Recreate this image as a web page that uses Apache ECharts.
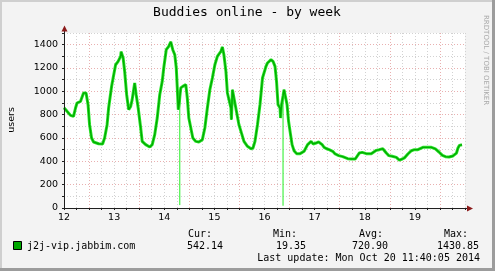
<!DOCTYPE html>
<html>
<head>
<meta charset="utf-8">
<script src="https://cdn.jsdelivr.net/npm/echarts@6/dist/echarts.min.js"></script>
<style>html,body{margin:0;padding:0;background:#f3f3f3;}#c{width:495px;height:271px;}</style>
</head>
<body>
<div id="c"></div>
<script>
const title = 'Buddies online - by week';
const yTitle = 'users';
const seriesName = 'j2j-vip.jabbim.com';
const statLabels = ['Cur:', 'Min:', 'Avg:', 'Max:'];
const statValues = ['542.14', '19.35', '720.90', '1430.85'];
const lastUpdate = 'Last update: Mon Oct 20 11:40:05 2014';
const xTicks = [12, 13, 14, 15, 16, 17, 18, 19];
const yTicks = [0, 200, 400, 600, 800, 1000, 1200, 1400];

// time in days (day of month), value in users
const days = [
  12.00,12.03,12.06,12.13,12.19,12.23,12.26,12.33,12.39,12.44,12.48,12.51,12.55,12.59,12.69,12.77,12.81,12.86,12.89,12.95,12.98,
  13.03,13.08,13.13,13.14,13.18,13.21,13.25,13.29,13.33,13.36,13.41,13.44,13.48,13.53,13.56,13.63,13.71,13.76,13.81,13.86,13.91,13.96,13.99,
  14.04,14.09,14.13,14.17,14.21,14.24,14.26,14.28,14.30,14.31,14.33,14.37,14.43,14.46,14.49,14.53,14.57,14.63,14.69,14.76,14.81,14.86,14.91,14.96,
  15.01,15.06,15.13,15.16,15.19,15.23,15.26,15.29,15.33,15.34,15.36,15.39,15.44,15.49,15.55,15.59,15.66,15.73,15.77,15.81,15.86,15.91,15.96,
  16.03,16.06,16.13,16.17,16.21,16.24,16.27,16.31,16.32,16.34,16.36,16.37,16.39,16.41,16.45,16.48,16.51,16.55,16.59,16.64,16.71,16.79,16.86,16.93,16.97,
  17.03,17.08,17.15,17.19,17.24,17.29,17.36,17.41,17.48,17.56,17.66,17.73,17.81,17.89,17.95,
  18.03,18.13,18.23,18.29,18.36,18.43,18.48,18.55,18.63,18.69,18.75,18.79,18.86,18.93,18.99,
  19.06,19.16,19.24,19.33,19.41,19.48,19.55,19.61,19.68,19.76,19.83,19.86,19.89,19.94,19.98
];
const users = [
  860,872,829,794,786,857,900,914,986,986,886,714,600,566,551,549,600,714,857,1043,1114,
  1228,1257,1300,1340,1286,1171,971,843,871,929,1071,971,857,686,571,543,523,543,629,771,971,1086,1200,
  1357,1386,1425,1357,1314,1200,1029,843,900,950,1029,1043,1057,943,771,686,600,571,566,586,686,857,1014,1114,
  1228,1300,1343,1380,1314,1171,986,971,857,757,1014,1000,829,714,629,571,529,508,514,571,714,886,1114,
  1214,1243,1271,1257,1214,1086,886,857,771,886,900,960,1014,971,886,743,657,543,491,466,466,486,543,571,
  549,557,566,543,520,508,500,486,463,449,440,423,420,420,471,
  477,466,466,494,500,508,471,449,443,434,411,420,429,463,491,
  500,500,520,520,520,506,480,451,440,437,446,471,514,537,542
];
// short dropouts: time, level before the drop, lowest value
const dropTimes = [14.31, 16.37];
const dropFrom = [920, 930];
const dropTo = [25, 19.35];

const mono = 'DejaVu Sans Mono';
const sans = 'DejaVu Sans';
const gridGray = '#d2d2d2';
const gridRed = '#e9b0b0';

const chart = echarts.init(document.getElementById('c'), null, {renderer: 'canvas'});
const data = days.map((d, i) => [d, users[i]]);
const dropData = [];
dropTimes.forEach((t, i) => { dropData.push([t, dropFrom[i]], [t, dropTo[i]], null); });

const statX = [200, 285, 371, 456];
const graphic = [
  {type:'rect', shape:{x:0,y:0,width:495,height:2}, style:{fill:'#cfcfcf'}, silent:true},
  {type:'rect', shape:{x:0,y:0,width:2,height:271}, style:{fill:'#cfcfcf'}, silent:true},
  {type:'rect', shape:{x:0,y:268,width:495,height:3}, style:{fill:'#9c9c9c'}, silent:true},
  {type:'rect', shape:{x:492,y:0,width:3,height:271}, style:{fill:'#9c9c9c'}, silent:true},
  {type:'text', x:247, y:13, style:{text:title, font:'13px "'+mono+'"', fill:'#000', align:'center', verticalAlign:'middle'}},
  {type:'text', x:12, y:120, rotation:Math.PI/2, style:{text:yTitle, font:'9.5px "'+sans+'"', fill:'#000', align:'center', verticalAlign:'middle'}},
  {type:'text', x:486, y:15, rotation:-Math.PI/2, style:{text:'RRDTOOL / TOBI OETIKER', font:'7px "'+sans+'"', fill:'#a8a8a8', align:'left', verticalAlign:'middle'}},
  {type:'line', shape:{x1:64.5,y1:208.5,x2:64.5,y2:30}, style:{stroke:'#202020', lineWidth:1}, z:20},
  {type:'line', shape:{x1:64,y1:208.5,x2:469,y2:208.5}, style:{stroke:'#202020', lineWidth:1}, z:20},
  {type:'polygon', shape:{points:[[61.5,31.5],[67.5,31.5],[64.5,25.5]]}, style:{fill:'#8b1a1a'}, z:21},
  {type:'polygon', shape:{points:[[467,205.5],[467,211.5],[473,208.5]]}, style:{fill:'#8b1a1a'}, z:21},
  {type:'rect', shape:{x:13.5,y:241.5,width:8,height:8}, style:{fill:'#00a800', stroke:'#000', lineWidth:1}},
  {type:'text', x:27, y:246, style:{text:seriesName, font:'10px "'+mono+'"', fill:'#000', align:'left', verticalAlign:'middle'}},
  {type:'text', x:480, y:258, style:{text:lastUpdate, font:'10px "'+mono+'"', fill:'#000', align:'right', verticalAlign:'middle'}}
];
const valOffset = [5, 6, -1, 2];
statLabels.forEach((s, i) => {
  graphic.push({type:'text', x:statX[i], y:234, style:{text:s, font:'10px "'+mono+'"', fill:'#000', align:'center', verticalAlign:'middle'}});
  graphic.push({type:'text', x:statX[i] + valOffset[i], y:246, style:{text:statValues[i], font:'10px "'+mono+'"', fill:'#000', align:'center', verticalAlign:'middle'}});
});

chart.setOption({
  animation: false,
  backgroundColor: '#f3f3f3',
  grid: {left:64, top:33, width:401, height:175, show:true, backgroundColor:'#ffffff', borderWidth:0},
  xAxis: [
    {type:'value', min:12, max:20, interval:1,
     axisLine:{show:false}, axisTick:{show:false},
     splitLine:{show:false},
     axisLabel:{show:true, margin:5, fontFamily:sans, fontSize:9.5, color:'#000',
       formatter: v => xTicks.includes(v) ? String(v) : ''}},
    {type:'value', min:12, max:20, interval:0.25, position:'bottom',
     axisLine:{show:false}, axisTick:{show:true, length:2, inside:false, lineStyle:{color:'#202020'}},
     axisLabel:{show:false},
     splitLine:{show:true, lineStyle:{type:[1,2], width:1, color:[gridGray, gridGray, gridRed, gridGray]}}}
  ],
  yAxis: [
    {type:'value', min:0, max:1500, interval:200,
     axisLine:{show:false}, axisTick:{show:false},
     splitLine:{show:false},
     axisLabel:{show:true, margin:6, fontFamily:sans, fontSize:9.5, color:'#000',
       formatter: v => yTicks.includes(v) ? String(v) : ''}},
    {type:'value', min:0, max:1500, interval:100, position:'left',
     axisLine:{show:false}, axisTick:{show:true, length:2, lineStyle:{color:'#202020'}},
     axisLabel:{show:false},
     splitLine:{show:true, lineStyle:{type:[1,2], width:1, color:[gridRed, gridGray]}}}
  ],
  series: [
    {type:'line', data:dropData, xAxisIndex:0, yAxisIndex:0, showSymbol:false, symbol:'none',
     connectNulls:false, lineStyle:{color:'#22ee22', width:1}, z:4},
    {type:'line', data:data, xAxisIndex:0, yAxisIndex:0, showSymbol:false, symbol:'none',
     lineStyle:{color:'#2ae42a', width:3}, z:5},
    {type:'line', data:data, xAxisIndex:0, yAxisIndex:0, showSymbol:false, symbol:'none',
     lineStyle:{color:'#00ad00', width:1.4}, z:6}
  ],
  graphic: graphic
});
</script>
</body>
</html>
